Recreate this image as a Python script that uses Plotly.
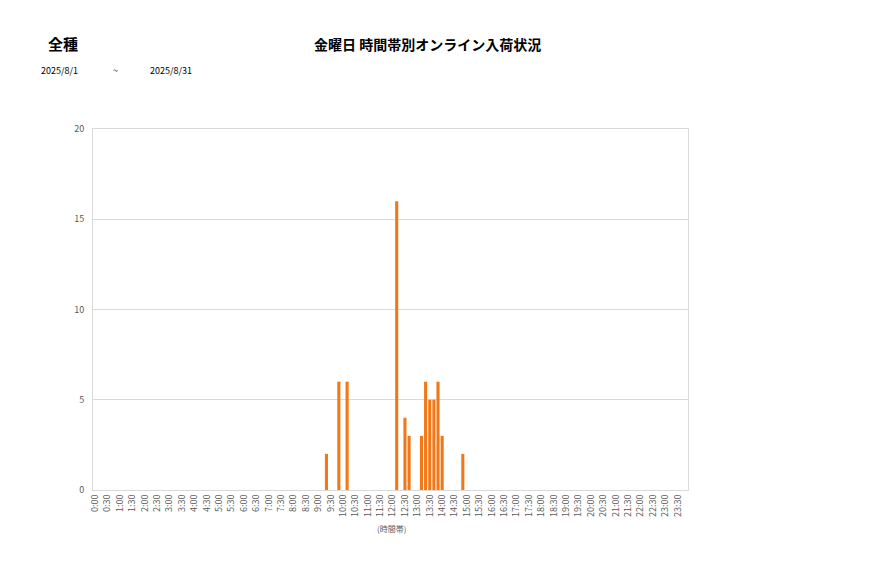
import plotly.graph_objects as go

# 10-minute time slots across the day
slots = [f"{h}:{m:02d}" for h in range(24) for m in range(0, 60, 10)]
tick_labels = [f"{h}:{m:02d}" for h in range(24) for m in (0, 30)]

# non-zero counts
bar_times = ["9:20", "9:50", "10:10", "12:10", "12:30", "12:40",
             "13:10", "13:20", "13:30", "13:40", "13:50", "14:00", "14:50"]
bar_counts = [2, 6, 6, 16, 4, 3, 3, 6, 5, 5, 6, 3, 2]

lookup = dict(zip(bar_times, bar_counts))
values = [lookup.get(s, 0) for s in slots]

font_fam = "Noto Sans CJK JP, Noto Sans, sans-serif"

OFF = 8  # page body offset
L, R, T, B = 93 - OFF, 877 - 688 + OFF, 129 - OFF, 578 - 490 + OFF

fig = go.Figure(go.Bar(
    x=slots, y=values,
    marker=dict(color="#F07819", line=dict(width=0)),
    hoverinfo="x+y",
))

fig.update_layout(
    width=877, height=578,
    paper_bgcolor="white", plot_bgcolor="white",
    margin=dict(l=L, r=R, t=T, b=B),
    bargap=0.25,
    showlegend=False,
    font=dict(family=font_fam, color="#595959", size=9),
    xaxis=dict(
        type="category",
        categoryorder="array", categoryarray=slots,
        tickmode="array", tickvals=tick_labels, ticktext=tick_labels,
        tickangle=-90, tickfont=dict(size=9, color="#595959"),
        showgrid=False, showline=True, linecolor="#D9D9D9", linewidth=1,
        mirror=True, ticks="", fixedrange=True,
    ),
    yaxis=dict(
        range=[0, 20], tickvals=[0, 5, 10, 15, 20],
        tickfont=dict(size=9, color="#595959"),
        showgrid=True, gridcolor="#D9D9D9", gridwidth=1,
        showline=True, linecolor="#D9D9D9", linewidth=1, mirror=True,
        zeroline=False, ticks="", ticklabelstandoff=6, fixedrange=True,
    ),
)

# annotations given in page pixel positions
texts = [
    ("<b>全種</b>", 63, 43, 15, "#000000"),
    ("<b>金曜日 時間帯別オンライン入荷状況</b>", 427, 44, 14, "#000000"),
    ("2025/8/1", 59, 71, 9, "#000000"),
    ("~", 115, 71, 9, "#000000"),
    ("2025/8/31", 171, 71, 9, "#000000"),
    ("(時間帯)", 391, 528, 8, "#595959"),
]
pw = 877 - L - R
ph = 578 - T - B
for txt, px, py, sz, col in texts:
    fx = px - OFF
    fy = 578 - (py - OFF)
    fig.add_annotation(
        text=txt, xref="paper", yref="paper",
        x=(fx - L) / pw, y=(fy - B) / ph,
        xanchor="center", yanchor="middle", showarrow=False,
        font=dict(size=sz, color=col, family=font_fam),
    )

fig.write_html("out.html")
